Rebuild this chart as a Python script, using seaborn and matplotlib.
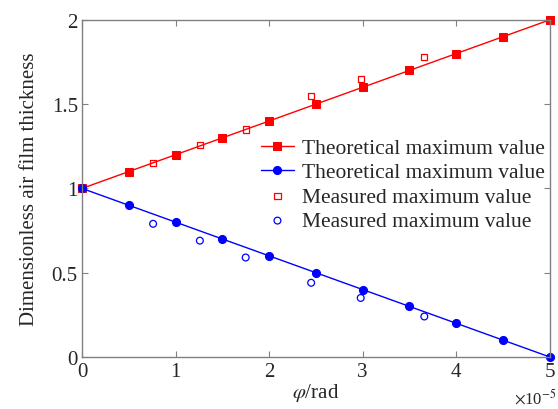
import matplotlib
matplotlib.use("Agg")
import matplotlib.pyplot as plt
import seaborn as sns
import pandas as pd

theo_x = [0, 0.5, 1, 1.5, 2, 2.5, 3, 3.5, 4, 4.5, 5]
theo_up = [1.0, 1.1, 1.2, 1.3, 1.4, 1.5, 1.6, 1.7, 1.8, 1.9, 2.0]
theo_down = [1.0, 0.9, 0.8, 0.7, 0.6, 0.5, 0.4, 0.3, 0.2, 0.1, 0.0]
meas_x = [0.76, 1.26, 1.75, 2.45, 2.98, 3.66]
meas_up = [1.15, 1.26, 1.35, 1.55, 1.65, 1.78]
meas_down = [0.79, 0.69, 0.59, 0.44, 0.35, 0.24]
label_theo = "Theoretical maximum value"
label_meas = "Measured maximum value"

sns.set_style("ticks")
plt.rcParams["font.family"] = ["Liberation Serif", "DejaVu Serif"]
plt.rcParams["mathtext.fontset"] = "stix"

fig = plt.figure(figsize=(5.58, 4.10), dpi=100)
ax = fig.add_axes([0.147, 0.127, 0.838, 0.822])

df_up = pd.DataFrame({"x": theo_x, "y": theo_up})
df_dn = pd.DataFrame({"x": theo_x, "y": theo_down})
dm_up = pd.DataFrame({"x": meas_x, "y": meas_up})
dm_dn = pd.DataFrame({"x": meas_x, "y": meas_down})

sns.lineplot(data=df_up, x="x", y="y", ax=ax, color="#ff0000", marker="s",
             markersize=5.5, markeredgecolor="#ff0000", linewidth=1.0, label=label_theo,
             clip_on=False)
sns.lineplot(data=df_dn, x="x", y="y", ax=ax, color="#0000ff", marker="o",
             markersize=5.8, markeredgecolor="#0000ff", linewidth=1.0, label=label_theo,
             clip_on=False)
sns.scatterplot(data=dm_up, x="x", y="y", ax=ax, marker="s", s=20,
                facecolor="none", edgecolor="#ff0000", linewidth=0.9, label=label_meas)
sns.scatterplot(data=dm_dn, x="x", y="y", ax=ax, marker="o", s=24,
                facecolor="none", edgecolor="#0000ff", linewidth=0.9, label=label_meas)

ax.set_xlim(0, 5)
ax.set_ylim(0, 2)
ax.set_xticks([0, 1, 2, 3, 4, 5])
ax.set_xticklabels(["0", "1", "2", "3", "4", "5"])
ax.set_yticks([0, 0.5, 1, 1.5, 2])
ax.set_yticklabels(["0", "0.5", "1", "1.5", "2"])
ax.tick_params(direction="in", top=True, right=True, labelsize=15, length=4,
               color="#808080")
ax.tick_params(axis="x", pad=4)
ax.tick_params(axis="y", pad=3)
for s in ax.spines.values():
    s.set_color("#808080")
    s.set_linewidth(1.0)

ax.set_xlabel(r"$\varphi$/rad", fontsize=15, labelpad=0)
ax.set_ylabel("Dimensionless air film thickness", fontsize=15, labelpad=9)
ax.text(1.015, -0.09, r"$\times$10$^{-5}$", transform=ax.transAxes, ha="right",
        va="top", fontsize=12)

leg = ax.legend(loc="upper left", bbox_to_anchor=(0.365, 0.675), frameon=False,
                fontsize=15.5, handlelength=1.5, handletextpad=0.4,
                labelspacing=0.2, borderaxespad=0)

fig.savefig("out.png", dpi=100)
